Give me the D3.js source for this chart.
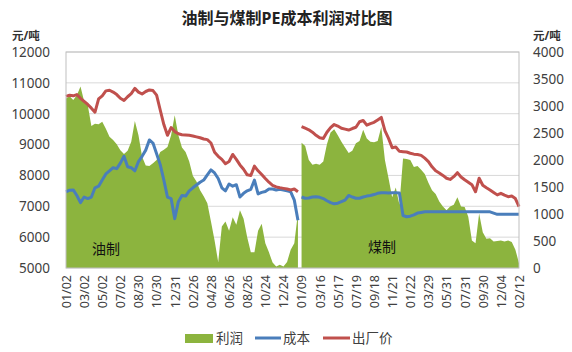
<!DOCTYPE html>
<html>
<head>
<meta charset="utf-8">
<script src="https://cdn.jsdelivr.net/npm/d3@7"></script>
<style>
  body { margin: 0; background: #fff; }
  text { font-family: "Noto Sans", "Noto Sans CJK SC", sans-serif; }
</style>
</head>
<body>
<div id="chart"></div>
<script>
// Tick labels (one every 5 points)
var dateLabels = ["01/02", "03/02", "05/02", "07/02", "08/30", "10/30", "12/31", "02/26", "04/28",
    "06/26", "08/26", "10/24", "12/24", "01/09", "03/16", "05/17", "07/19", "09/18", "11/21",
    "01/22", "03/29", "05/31", "07/31", "09/30", "12/04", "02/12"];

// 出厂价 (left axis), oil part 0-64, coal part 65-125
var price = [10560, 10600, 10580, 10620, 10500, 10400, 10300, 10180, 10050, 10480,
    10580, 10740, 10760, 10700, 10620, 10500, 10430, 10550, 10650, 10820,
    10700, 10640, 10720, 10770, 10750, 10600, 10120, 9650, 9300, 9550,
    9420, 9350, 9320, 9310, 9300, 9280, 9250, 9220, 9180, 9160,
    9050, 8750, 8620, 8520, 8380, 8450, 8680, 8520, 8340, 8200,
    8020, 8000, 8300, 8150, 8030, 7900, 7780, 7680, 7630, 7600,
    7580, 7560, 7530, 7560, 7470,
    9580, 9530, 9480, 9400, 9300, 9220, 9200, 9400, 9550, 9650,
    9600, 9530, 9500, 9470, 9520, 9560, 9740, 9780, 9630, 9680,
    9720, 9800, 9880, 9450, 9200, 8900, 8920, 8780, 8770, 8760,
    8720, 8690, 8680, 8650, 8560, 8450, 8280, 8150, 8080, 8000,
    7910, 7870, 7960, 8090, 7950, 7860, 7780, 7700, 7470, 7910,
    7680, 7600, 7530, 7450, 7370, 7420, 7360, 7310, 7330, 7250, 6990];

// 成本 (left axis)
var cost = [7470, 7520, 7530, 7350, 7120, 7300, 7250, 7300, 7600, 7650,
    7850, 8050, 8150, 8250, 8220, 8400, 8620, 8280, 8250, 8150,
    8450, 8620, 8820, 9150, 9050, 8700, 8350, 7850, 7300, 7250,
    6600, 7150, 7350, 7330, 7500, 7600, 7690, 7780, 7850, 8020,
    8180, 8080, 7900, 7600, 7500, 7720, 7650, 7700, 7300, 7420,
    7500, 7550, 7850, 7400, 7450, 7480, 7560, 7560, 7530, 7550,
    7530, 7500, 7470, 7200, 6550,
    7300, 7260, 7270, 7300, 7310, 7290, 7250, 7180, 7120, 7080,
    7100, 7150, 7200, 7350, 7300, 7260, 7260, 7300, 7330, 7350,
    7380, 7420, 7440, 7440, 7430, 7440, 7440, 7430, 6700, 6660,
    6680, 6720, 6780, 6800, 6820, 6820, 6820, 6820, 6820, 6820,
    6820, 6820, 6820, 6820, 6820, 6820, 6820, 6820, 6820, 6820,
    6820, 6820, 6820, 6780, 6740, 6740, 6740, 6740, 6740, 6740, 6740];

// 利润 (right axis)
var profit = [3140, 3180, 3110, 3200, 3360, 3090, 3020, 2630, 2670, 2660,
    2710, 2580, 2430, 2370, 2290, 2180, 2110, 2170, 2340, 2720,
    2460, 2060, 1900, 1890, 1940, 2000, 2150, 2190, 2240, 2460,
    2830, 2460, 2230, 2150, 1970, 1710, 1600, 1440, 1330, 1200,
    860, 510, 110, 770, 860, 690, 940, 800, 1070, 910,
    570, 290, 290, 690, 820, 460, 290, 100, 30, 60,
    30, 110, 340, 460, 1020,
    2320, 2260, 2000, 1910, 1930, 1910, 1970, 2290, 2510, 2570,
    2460, 2340, 2230, 2130, 2170, 2310, 2350, 2560, 2400, 2340,
    2330, 2350, 2610, 2000, 1660, 1310, 1490, 1170, 2030, 2020,
    2000, 1870, 1890, 1820, 1740, 1580, 1440, 1370, 1230, 1140,
    1070, 1140, 1170, 1310, 1140, 1130, 950, 510, 460, 1010,
    660, 540, 550, 490, 500, 510, 490, 510, 480, 340, 90];

// oil / coal parts are drawn separately
var segments = [[0, 64], [65, 125]];

var leftTicks = [5000, 6000, 7000, 8000, 9000, 10000, 11000, 12000];
var rightTicks = [0, 500, 1000, 1500, 2000, 2500, 3000, 3500, 4000];

var width = 572,
    height = 352,
    margin = { top: 52, right: 53, bottom: 84, left: 66 };

var svg = d3.select("#chart")
    .append("svg")
    .attr("width", width)
    .attr("height", height);

var x = d3.scaleLinear()
    .domain([0, price.length - 1])
    .range([margin.left, width - margin.right]);

var yL = d3.scaleLinear()
    .domain([5000, 12000])
    .range([height - margin.bottom, margin.top]);

var yR = d3.scaleLinear()
    .domain([0, 4000])
    .range([height - margin.bottom, margin.top]);

// gridlines
svg.append("g")
    .selectAll("line")
    .data(leftTicks)
    .enter().append("line")
    .attr("x1", margin.left)
    .attr("x2", width - margin.right)
    .attr("y1", d => yL(d))
    .attr("y2", d => yL(d))
    .attr("stroke", "#d9d9d9")
    .attr("stroke-width", 1);

var green = "#8cb43e", blue = "#4a7ebb", red = "#c0504d";

var area = d3.area()
    .x(d => x(d))
    .y0(yR(0))
    .y1(d => yR(profit[d]));

var costLine = d3.line()
    .x(d => x(d))
    .y(d => yL(cost[d]));

var priceLine = d3.line()
    .x(d => x(d))
    .y(d => yL(price[d]));

segments.forEach(function(s) {
    var idx = d3.range(s[0], s[1] + 1);
    svg.append("path")
        .attr("d", area(idx))
        .attr("fill", green);
});

segments.forEach(function(s) {
    var idx = d3.range(s[0], s[1] + 1);
    svg.append("path")
        .attr("d", costLine(idx))
        .attr("fill", "none")
        .attr("stroke", blue)
        .attr("stroke-width", 3)
        .attr("stroke-linejoin", "round");
});

segments.forEach(function(s) {
    var idx = d3.range(s[0], s[1] + 1);
    svg.append("path")
        .attr("d", priceLine(idx))
        .attr("fill", "none")
        .attr("stroke", red)
        .attr("stroke-width", 3)
        .attr("stroke-linejoin", "round");
});

// plot border
svg.append("rect")
    .attr("x", margin.left)
    .attr("y", margin.top)
    .attr("width", width - margin.left - margin.right)
    .attr("height", height - margin.top - margin.bottom)
    .attr("fill", "none")
    .attr("stroke", "#bfbfbf");

// axes
var leftAxis = svg.append("g")
    .attr("transform", `translate(${margin.left},0)`)
    .call(d3.axisLeft(yL).tickValues(leftTicks).tickFormat(d3.format("d")).tickSize(0).tickPadding(16));

var rightAxis = svg.append("g")
    .attr("transform", `translate(${width - margin.right},0)`)
    .call(d3.axisRight(yR).tickValues(rightTicks).tickFormat(d3.format("d")).tickSize(0).tickPadding(14));

var xAxis = svg.append("g")
    .attr("transform", `translate(0,${height - margin.bottom})`)
    .call(d3.axisBottom(x)
        .tickValues(dateLabels.map((d, i) => i * 5))
        .tickFormat((d, i) => dateLabels[i])
        .tickSize(0));

[leftAxis, rightAxis, xAxis].forEach(function(a) {
    a.select(".domain").remove();
    a.selectAll("text")
        .attr("fill", "#404040")
        .style("font-size", "13.5px")
        .style("font-family", "'Noto Sans', sans-serif");
});

xAxis.selectAll("text")
    .attr("transform", "rotate(-90)")
    .style("text-anchor", "end")
    .style("font-size", "12.5px")
    .attr("x", -7)
    .attr("y", 0)
    .attr("dy", "0.35em");

// title and unit labels
svg.append("text")
    .attr("x", 287)
    .attr("y", 24)
    .attr("text-anchor", "middle")
    .style("font-size", "16px")
    .style("font-weight", "bold")
    .attr("fill", "#222")
    .text("油制与煤制PE成本利润对比图");

svg.append("text")
    .attr("x", 12)
    .attr("y", 40)
    .style("font-size", "11.5px")
    .style("font-weight", "bold")
    .attr("fill", "#333")
    .text("元/吨");

svg.append("text")
    .attr("x", 533)
    .attr("y", 40)
    .style("font-size", "11.5px")
    .style("font-weight", "bold")
    .attr("fill", "#333")
    .text("元/吨");

svg.append("text")
    .attr("x", 92)
    .attr("y", 254)
    .style("font-size", "14px")
    .attr("fill", "#111")
    .text("油制");

svg.append("text")
    .attr("x", 368)
    .attr("y", 252)
    .style("font-size", "14px")
    .attr("fill", "#111")
    .text("煤制");

// legend
var legend = svg.append("g").attr("transform", "translate(0,338)");
legend.append("rect")
    .attr("x", 185).attr("y", -4).attr("width", 28).attr("height", 9)
    .attr("fill", green);
legend.append("line")
    .attr("x1", 255).attr("x2", 281).attr("y1", 0).attr("y2", 0)
    .attr("stroke", blue).attr("stroke-width", 3);
legend.append("line")
    .attr("x1", 323).attr("x2", 350).attr("y1", 0).attr("y2", 0)
    .attr("stroke", red).attr("stroke-width", 3);

var legendText = [["利润", 216], ["成本", 283], ["出厂价", 352]];
legend.selectAll("text.lg")
    .data(legendText)
    .enter().append("text")
    .attr("class", "lg")
    .attr("x", d => d[1])
    .attr("y", 0)
    .attr("dy", "0.35em")
    .style("font-size", "13.5px")
    .attr("fill", "#404040")
    .text(d => d[0]);
</script>
</body>
</html>
